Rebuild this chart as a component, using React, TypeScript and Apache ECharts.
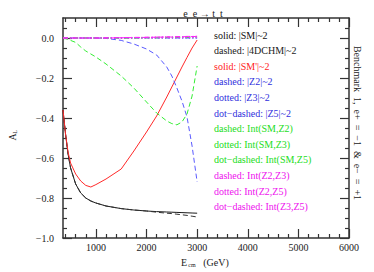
import React, { useEffect, useRef } from "react";
import * as echarts from "echarts";

const energy = [350, 400, 450, 500, 600, 700, 800, 900, 1000, 1200, 1500, 1750, 2000, 2200, 2400, 2500, 2600, 2700, 2800, 2900, 3000];

const smSolid = [-0.36, -0.48, -0.58, -0.65, -0.73, -0.775, -0.80, -0.815, -0.825, -0.84, -0.853, -0.86, -0.865, -0.868, -0.87, -0.871, -0.872, -0.873, -0.874, -0.875, -0.876];
const dchmDashed = [-0.36, -0.48, -0.58, -0.65, -0.73, -0.775, -0.80, -0.815, -0.825, -0.84, -0.853, -0.86, -0.865, -0.871, -0.876, -0.878, -0.881, -0.884, -0.887, -0.891, -0.895];
const smPrime = [-0.36, -0.48, -0.57, -0.625, -0.68, -0.715, -0.737, -0.745, -0.733, -0.705, -0.655, -0.565, -0.47, -0.39, -0.295, -0.245, -0.195, -0.145, -0.097, -0.05, -0.01];
const z2 = [0, 0, 0, 0, 0, 0, 0, 0, 0, -0.002, -0.012, -0.03, -0.055, -0.085, -0.145, -0.19, -0.25, -0.315, -0.395, -0.54, -0.72];
const z3 = [0, 0, 0, 0, 0, 0, 0, 0, 0, 0, 0, 0, 0, 0, 0, 0, 0, 0, 0, 0, 0];
const z5 = [0, 0, 0, 0, 0, 0, 0, 0, 0, 0, 0, 0, 0, 0, 0, 0, 0, 0, 0, 0, 0];
const intSmZ2 = [0, -0.003, -0.007, -0.012, -0.022, -0.045, -0.065, -0.08, -0.095, -0.13, -0.19, -0.25, -0.32, -0.375, -0.415, -0.428, -0.434, -0.42, -0.38, -0.29, -0.14];
const intSmZ3 = [0, 0, 0, 0, 0, 0, 0, 0, 0, 0, 0, 0.001, 0.002, 0.003, 0.004, 0.004, 0.005, 0.005, 0.006, 0.006, 0.007];
const intSmZ5 = [0, 0, 0, 0, 0, 0, 0, 0, 0, 0, 0, 0, 0.001, 0.001, 0.002, 0.002, 0.003, 0.003, 0.003, 0.004, 0.004];
const intZ2Z3 = [0, 0, 0, 0, 0, 0, 0, 0, 0, 0, 0.001, 0.002, 0.003, 0.004, 0.005, 0.005, 0.006, 0.006, 0.007, 0.007, 0.008];
const intZ2Z5 = [0, 0, 0, 0, 0, 0, 0, 0, 0, 0, 0, 0, 0, 0, 0.001, 0.001, 0.001, 0.002, 0.002, 0.002, 0.003];
const intZ3Z5 = [0, 0, 0, 0, 0, 0, 0, 0, 0, 0.001, 0.002, 0.003, 0.004, 0.005, 0.006, 0.006, 0.007, 0.007, 0.008, 0.008, 0.009];

const legendLabels = [
  "solid: |SM|~2",
  "dashed: |4DCHM|~2",
  "solid: |SM'|~2",
  "dashed: |Z2|~2",
  "dotted: |Z3|~2",
  "dot\u2212dashed: |Z5|~2",
  "dashed: Int(SM,Z2)",
  "dotted: Int(SM,Z3)",
  "dot\u2212dashed: Int(SM,Z5)",
  "dashed: Int(Z2,Z3)",
  "dotted: Int(Z2,Z5)",
  "dot\u2212dashed: Int(Z3,Z5)",
];

const seriesValues = [smSolid, dchmDashed, smPrime, z2, z3, z5, intSmZ2, intSmZ3, intSmZ5, intZ2Z3, intZ2Z5, intZ3Z5];

const xMajor = [1000, 2000, 3000, 4000, 5000, 6000];
const xMinor = [400, 600, 800, 1200, 1400, 1600, 1800, 2200, 2400, 2600, 2800, 3200, 3400, 3600, 3800, 4200, 4400, 4600, 4800, 5200, 5400, 5600, 5800];
const yMajor = [-1.0, -0.8, -0.6, -0.4, -0.2, 0.0];
const yMinor = [-0.95, -0.9, -0.85, -0.75, -0.7, -0.65, -0.55, -0.5, -0.45, -0.35, -0.3, -0.25, -0.15, -0.1, -0.05, 0.05];

const titleText = "e  e \u2192 t  t";
const sideText = "Benchmark  1,  e+  =  \u22121  &  e\u2212  =  +1";

const BLACK = "#1a1a1a";
const RED = "#ff2a2a";
const BLUE = "#5a5aff";
const GREEN = "#33ee33";
const MAGENTA = "#ff22ff";

const lineColors = [BLACK, "#333333", RED, BLUE, BLUE, BLUE, GREEN, GREEN, GREEN, MAGENTA, MAGENTA, MAGENTA];
const textColors = ["#111111", "#222222", "#ff1a1a", "#3030dd", "#3030dd", "#3030dd", "#22dd22", "#22dd22", "#22dd22", "#ee10ee", "#ee10ee", "#ee10ee"];
const SOLID: any = "solid";
const DASH = [5, 3];
const DOT = [1.2, 2.2];
const DOTDASH = [5, 2, 1.2, 2];
const lineTypes: any[] = [SOLID, DASH, SOLID, DASH, DOT, DOTDASH, DASH, DOT, DOTDASH, DASH, DOT, DOTDASH];

const FONT = "Liberation Serif";
const FONT_CSS = `"Liberation Serif", "DejaVu Serif", serif`;
const AXIS_COLOR = "#333";

function App() {
  const ref = useRef<HTMLDivElement>(null);
  useEffect(() => {
    if (!ref.current) return;
    const chart = echarts.init(ref.current, null, { renderer: "svg" });

    const mkX = (pos: string, major: boolean, labels: boolean) => ({
      type: "value",
      min: 350,
      max: 6000,
      position: pos,
      axisLine: { show: major, onZero: false, lineStyle: { color: AXIS_COLOR, width: 1.5 } },
      axisTick: {
        show: true,
        inside: true,
        length: major ? 9 : 4,
        customValues: major ? xMajor : xMinor,
        lineStyle: { color: AXIS_COLOR, width: 1.2 },
      },
      axisLabel: labels
        ? {
            show: true,
            customValues: xMajor,
            margin: 4,
            fontFamily: FONT_CSS,
            fontSize: 10,
            color: "#222",
            formatter: (v: number) => String(Math.round(v)),
          }
        : { show: false },
      splitLine: { show: false },
    });
    const mkY = (pos: string, major: boolean, labels: boolean) => ({
      type: "value",
      min: -1.0,
      max: 0.1,
      position: pos,
      axisLine: { show: major, onZero: false, lineStyle: { color: AXIS_COLOR, width: 1.5 } },
      axisTick: {
        show: true,
        inside: true,
        length: major ? 9 : 4,
        customValues: major ? yMajor : yMinor,
        lineStyle: { color: AXIS_COLOR, width: 1.2 },
      },
      axisLabel: labels
        ? {
            show: true,
            customValues: yMajor,
            margin: 9,
            fontFamily: FONT_CSS,
            fontSize: 10,
            color: "#222",
            formatter: (v: number) => (v < -1e-9 ? "\u2212" : "") + Math.abs(v).toFixed(1),
          }
        : { show: false },
      splitLine: { show: false },
    });

    const series = seriesValues.map((vals, i) => ({
      name: legendLabels[i],
      type: "line",
      xAxisIndex: 0,
      yAxisIndex: 0,
      data: energy.map((e, j) => [e, vals[j]]),
      symbol: "none",
      smooth: false,
      lineStyle: { color: lineColors[i], width: 1, type: lineTypes[i] },
      z: 2 + i,
    }));

    const font = (s: number) => `${s}px ${FONT_CSS}`;

    const legendTexts = legendLabels.map((t, i) => ({
      type: "text",
      x: 214,
      y: 35 + i * 15.6,
      style: { text: t, fill: textColors[i], font: font(10), textVerticalAlign: "middle" },
    }));

    chart.setOption({
      animation: false,
      backgroundColor: "#ffffff",
      grid: { left: 63, right: 25, top: 18, bottom: 34, containLabel: false, outerBoundsMode: "none" },
      xAxis: [mkX("bottom", true, true), mkX("bottom", false, false), mkX("top", true, false), mkX("top", false, false)],
      yAxis: [mkY("left", true, true), mkY("left", false, false), mkY("right", true, false), mkY("right", false, false)],
      series,
      graphic: [
        {
          type: "text",
          x: 203,
          y: 13,
          style: { text: titleText, fill: "#222", font: font(10), textAlign: "center", textVerticalAlign: "middle" },
        },
        {
          type: "group",
          x: 12,
          y: 137,
          rotation: Math.PI / 2,
          children: [
            { type: "text", x: 0, y: 0, style: { text: "A", fill: "#222", font: font(10), textAlign: "center", textVerticalAlign: "middle" } },
            { type: "text", x: 5, y: 3, style: { text: "L", fill: "#222", font: font(6), textAlign: "center", textVerticalAlign: "middle" } },
          ],
        },
        {
          type: "group",
          x: 206,
          y: 262,
          children: [
            { type: "text", x: -22, y: 0, style: { text: "E", fill: "#222", font: font(10), textAlign: "center", textVerticalAlign: "middle" } },
            { type: "text", x: -14, y: 3, style: { text: "cm", fill: "#222", font: font(6), textAlign: "center", textVerticalAlign: "middle" } },
            { type: "text", x: 10, y: 0, style: { text: "(GeV)", fill: "#222", font: font(10), textAlign: "center", textVerticalAlign: "middle" } },
          ],
        },
        {
          type: "text",
          x: 357,
          y: 123,
          rotation: -Math.PI / 2,
          style: { text: sideText, fill: "#222", font: font(10), textAlign: "center", textVerticalAlign: "middle" },
        },
        ...legendTexts,
      ],
    });
    return () => chart.dispose();
  }, []);
  return <div ref={ref} style={{ position: "fixed", left: 0, top: 0, width: 374, height: 272 }} />;
}

export default App;
